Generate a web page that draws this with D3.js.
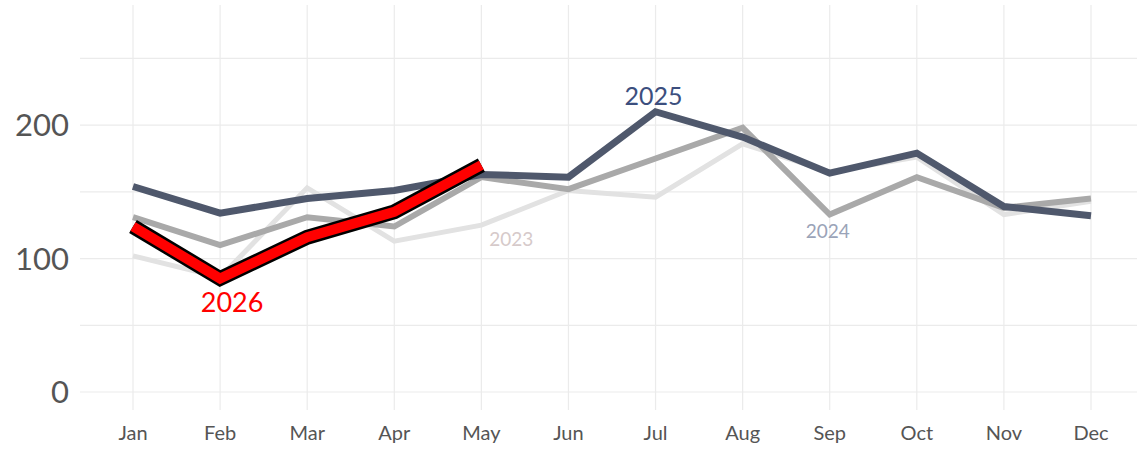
<!DOCTYPE html>
<html>
<head>
<meta charset="utf-8">
<script src="https://cdn.jsdelivr.net/npm/d3@7"></script>
<style>
  body { margin: 0; background: #fff; }
  svg { display: block; font-family: Lato, "Open Sans", sans-serif; }
</style>
</head>
<body>
<svg id="chart"></svg>
<script>
// data
var months = ["Jan","Feb","Mar","Apr","May","Jun","Jul","Aug","Sep","Oct","Nov","Dec"];
var y2023 = [102, 86, 153, 113, 125, 151, 146, 186, 165, 176, 133, 143];
var y2024 = [131, 110, 131, 124, 161, 152, 175, 198, 133, 161, 138, 145];
var y2025 = [154, 134, 145, 151, 163, 161, 210, 191, 164, 179, 139, 132];
var y2026 = [124, 85, 116, 135, 170];
var gridTicks = [0, 50, 100, 150, 200, 250];
var labelTicks = [0, 100, 200];

var width = 1137, height = 449;

var svg = d3.select("#chart")
    .attr("width", width)
    .attr("height", height);

var x = d3.scalePoint()
    .domain(months)
    .range([133, 1091]);

var y = d3.scaleLinear()
    .domain([0, 290])
    .range([392, 5]);

// grid
svg.append("g")
    .selectAll("line.h")
    .data(gridTicks)
    .enter()
    .append("line")
        .attr("x1", 80)
        .attr("x2", width)
        .attr("y1", d => y(d))
        .attr("y2", d => y(d))
        .attr("stroke", "#ebebeb")
        .attr("stroke-width", 1.2);

svg.append("g")
    .selectAll("line.v")
    .data(months)
    .enter()
    .append("line")
        .attr("x1", d => x(d))
        .attr("x2", d => x(d))
        .attr("y1", 5)
        .attr("y2", 410)
        .attr("stroke", "#ebebeb")
        .attr("stroke-width", 1.2);

// axis labels
svg.append("g")
    .selectAll("text")
    .data(labelTicks)
    .enter()
    .append("text")
        .attr("x", 69)
        .attr("y", d => y(d))
        .attr("dy", "0.36em")
        .attr("text-anchor", "end")
        .attr("font-size", 31)
        .attr("fill", "#555")
        .text(d => d);

svg.append("g")
    .selectAll("text")
    .data(months)
    .enter()
    .append("text")
        .attr("x", d => x(d))
        .attr("y", 440)
        .attr("text-anchor", "middle")
        .attr("font-size", 20)
        .attr("fill", "#555")
        .text(d => d);

// lines
var line = d3.line()
    .x((d, i) => x(months[i]))
    .y(d => y(d));

function drawLine(data, color, w) {
    svg.append("path")
        .datum(data)
        .attr("fill", "none")
        .attr("stroke", color)
        .attr("stroke-width", w)
        .attr("stroke-linejoin", "miter")
        .attr("d", line);
}

drawLine(y2023, "#e2e2e2", 5);
drawLine(y2024, "#a9a9a9", 6);
drawLine(y2025, "#4f586c", 7);
drawLine(y2026, "#000", 15);
drawLine(y2026, "#ff0000", 10);

// series labels
function label(txt, mx, dy, v, size, color) {
    svg.append("text")
        .attr("x", x(mx) + dy)
        .attr("y", v)
        .attr("text-anchor", "middle")
        .attr("font-size", size)
        .attr("fill", color)
        .text(txt);
}
label("2023", "May", 30, 246, 19, "#d6caca");
label("2024", "Sep", -2, 238, 19, "#9aa3b8");
label("2025", "Jul", -2, 105, 25, "#3c4f7e");
label("2026", "Feb", 12, 312, 27, "#ff0000");
</script>
</body>
</html>
